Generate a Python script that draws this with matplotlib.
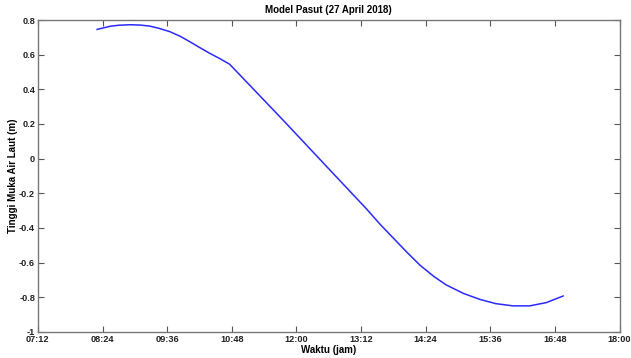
import numpy as np
import matplotlib.pyplot as plt

# waktu dalam jam (desimal), tinggi muka air (m)
jam = [8.30, 8.54, 8.70, 8.91, 9.10, 9.28, 9.45, 9.65, 9.85, 10.02, 10.20,
       10.39, 10.58, 10.76, 11.75, 12.68, 13.30, 13.55, 13.92, 14.05, 14.29,
       14.55, 14.78, 15.10, 15.40, 15.70, 16.02, 16.33, 16.64, 16.95]
tinggi = [0.746, 0.764, 0.770, 0.773, 0.771, 0.765, 0.752, 0.733, 0.705, 0.675,
          0.642, 0.608, 0.577, 0.545, 0.223, -0.085, -0.290, -0.378, -0.498,
          -0.540, -0.614, -0.680, -0.729, -0.778, -0.812, -0.837, -0.850, -0.850,
          -0.831, -0.793]

xticks = [7.2, 8.4, 9.6, 10.8, 12.0, 13.2, 14.4, 15.6, 16.8, 18.0]
xticklabels = ['07:12', '08:24', '09:36', '10:48', '12:00', '13:12', '14:24',
               '15:36', '16:48', '18:00']
yticks = [-1, -0.8, -0.6, -0.4, -0.2, 0, 0.2, 0.4, 0.6, 0.8]
yticklabels = ['-1', '-0.8', '-0.6', '-0.4', '-0.2', '0', '0.2', '0.4', '0.6', '0.8']

plt.rcParams['font.family'] = ['Liberation Sans', 'DejaVu Sans']
plt.rcParams['font.size'] = 7
plt.rcParams['font.weight'] = 'bold'

fig = plt.figure(figsize=(6.31, 3.58), dpi=100)
ax = fig.add_axes([0.060, 0.073, 0.922, 0.871])

ax.plot(jam, tinggi, color='#2a2aff', linewidth=1.1)

ax.set_xlim(7.2, 18.0)
ax.set_ylim(-1, 0.8)
ax.set_xticks(xticks)
ax.set_xticklabels(xticklabels)
ax.set_yticks(yticks)
ax.set_yticklabels(yticklabels)
ax.tick_params(direction='in', top=True, right=True, length=4, width=0.8,
               color='#555555', labelcolor='#222222', pad=2, labelsize=6.6)
for s in ax.spines.values():
    s.set_color('#777777')
    s.set_linewidth(1.0)

ax.set_title('Model Pasut (27 April 2018)', fontsize=7, fontweight='bold', pad=5)
ax.set_xlabel('Waktu (jam)', fontsize=7, fontweight='bold', labelpad=1)
ax.set_ylabel('Tinggi Muka Air Laut (m)', fontsize=7, fontweight='bold', labelpad=0.5)

plt.savefig('out.png', dpi=100)
